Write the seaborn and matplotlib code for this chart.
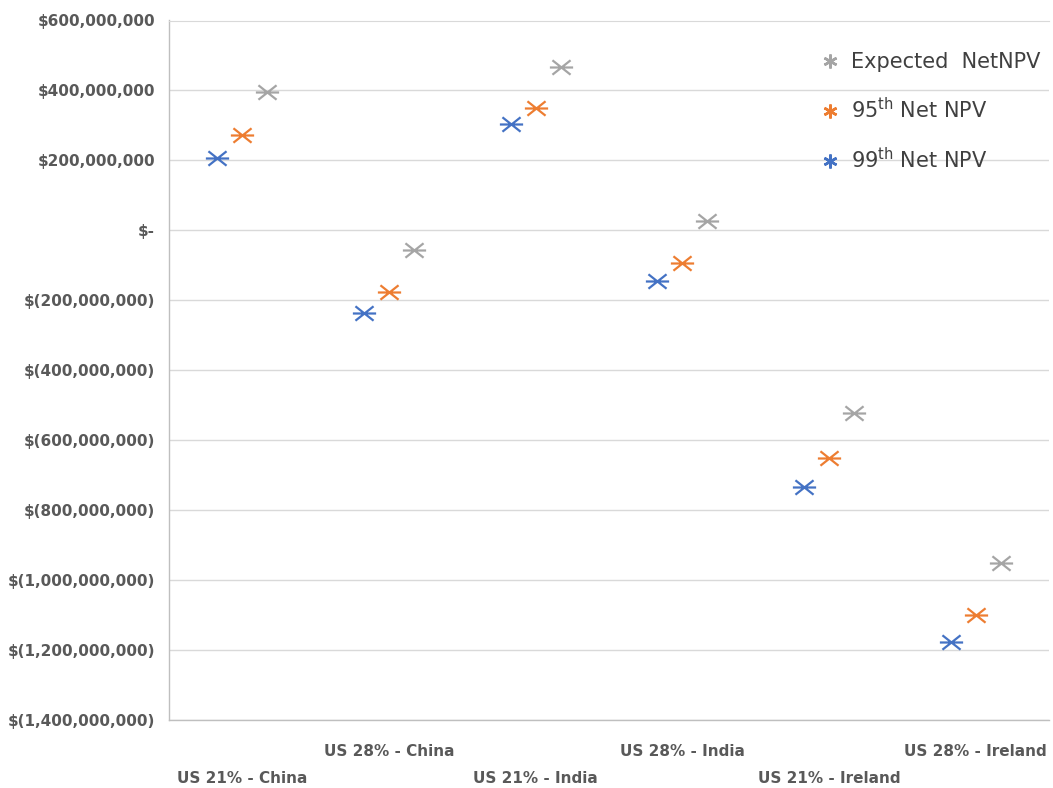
import numpy as np
import pandas as pd
import matplotlib
matplotlib.use("Agg")
import matplotlib.pyplot as plt
from matplotlib.path import Path
from matplotlib.lines import Line2D
from matplotlib.ticker import FuncFormatter, MultipleLocator
import seaborn as sns

# ---- data (values in $) ----
categories = ["US 21% - China", "US 28% - China", "US 21% - India",
              "US 28% - India", "US 21% - Ireland", "US 28% - Ireland"]
npv_99th = [207e6, -236e6, 304e6, -144e6, -733e6, -1178e6]
npv_95th = [273e6, -176e6, 350e6, -93e6, -650e6, -1101e6]
npv_expected = [396e6, -56e6, 467e6, 27e6, -521e6, -950e6]

series_names = ["99th Net NPV", "95th Net NPV", "Expected  NetNPV"]
series_values = [npv_99th, npv_95th, npv_expected]
series_colors = ["#4472C4", "#ED7D31", "#A5A5A5"]
series_offsets = [-0.17, 0.0, 0.17]

rows = []
for name, vals, off in zip(series_names, series_values, series_offsets):
    for i, (cat, v) in enumerate(zip(categories, vals)):
        rows.append({"scenario": cat, "series": name, "xpos": i + off, "value": v})
df = pd.DataFrame(rows)

# Excel-like "star" marker: horizontal bar plus an X
star = Path(
    [(-1, 0), (1, 0), (-0.78, -0.62), (0.78, 0.62), (-0.78, 0.62), (0.78, -0.62)],
    [Path.MOVETO, Path.LINETO, Path.MOVETO, Path.LINETO, Path.MOVETO, Path.LINETO],
)

sns.set_style("white")
plt.rcParams["font.family"] = ["DejaVu Sans"]

fig = plt.figure(figsize=(10.53, 7.88), dpi=100)
ax = fig.add_axes([169 / 1053, 1 - 720 / 788, 880 / 1053, (720 - 20.5) / 788])

palette = dict(zip(series_names, series_colors))
for name in series_names:
    sub = df[df["series"] == name]
    sns.scatterplot(data=sub, x="xpos", y="value", color=palette[name],
                    marker=star, s=280, linewidth=1.6, edgecolor="face",
                    legend=False, ax=ax, zorder=3)

ax.set_xlim(-0.5, len(categories) - 0.5)
ax.set_ylim(-1400e6, 600e6)
ax.yaxis.set_major_locator(MultipleLocator(200e6))


def money(v, pos):
    m = int(round(v))
    if m == 0:
        return "$-"
    if m < 0:
        return f"$({abs(m):,})"
    return f"${m:,}"


ax.yaxis.set_major_formatter(FuncFormatter(money))
ax.set_xticks(range(len(categories)))
ax.set_xticklabels(categories)
ax.set_xlabel("")
ax.set_ylabel("")

label_color = "#595959"
ax.tick_params(axis="y", length=0, pad=10, labelsize=11, labelcolor=label_color)
ax.tick_params(axis="x", length=0, labelsize=11, labelcolor=label_color)
for lab in ax.get_yticklabels() + ax.get_xticklabels():
    lab.set_fontweight("bold")
for i, t in enumerate(ax.xaxis.get_major_ticks()):
    t.set_pad(37 if i % 2 == 0 else 17.5)

ax.yaxis.grid(True, color="#D9D9D9", linewidth=1)
ax.xaxis.grid(False)
ax.set_axisbelow(True)
for side in ["left", "bottom"]:
    ax.spines[side].set_visible(True)
    ax.spines[side].set_color("#BFBFBF")
    ax.spines[side].set_linewidth(1)
ax.spines["top"].set_visible(True)
ax.spines["top"].set_color("#D9D9D9")
ax.spines["right"].set_visible(False)

# legend (order: Expected, 95th, 99th)
legend_labels = ["Expected  NetNPV", r"95$^{\mathrm{th}}$ Net NPV", r"99$^{\mathrm{th}}$ Net NPV"]
legend_colors = [series_colors[2], series_colors[1], series_colors[0]]
handles = [Line2D([], [], linestyle="none", marker=(6, 2, 0), markersize=10,
                  markeredgewidth=1.8, color=c) for c in legend_colors]
leg = fig.legend(handles, legend_labels, loc="upper left",
                 bbox_to_anchor=(820 / 1053, 1 - 52 / 788), frameon=False,
                 fontsize=15, handlelength=1.0, handletextpad=0.5,
                 labelspacing=1.2, borderpad=0, borderaxespad=0)
for t in leg.get_texts():
    t.set_color("#404040")

fig.savefig("out.png", dpi=100)
